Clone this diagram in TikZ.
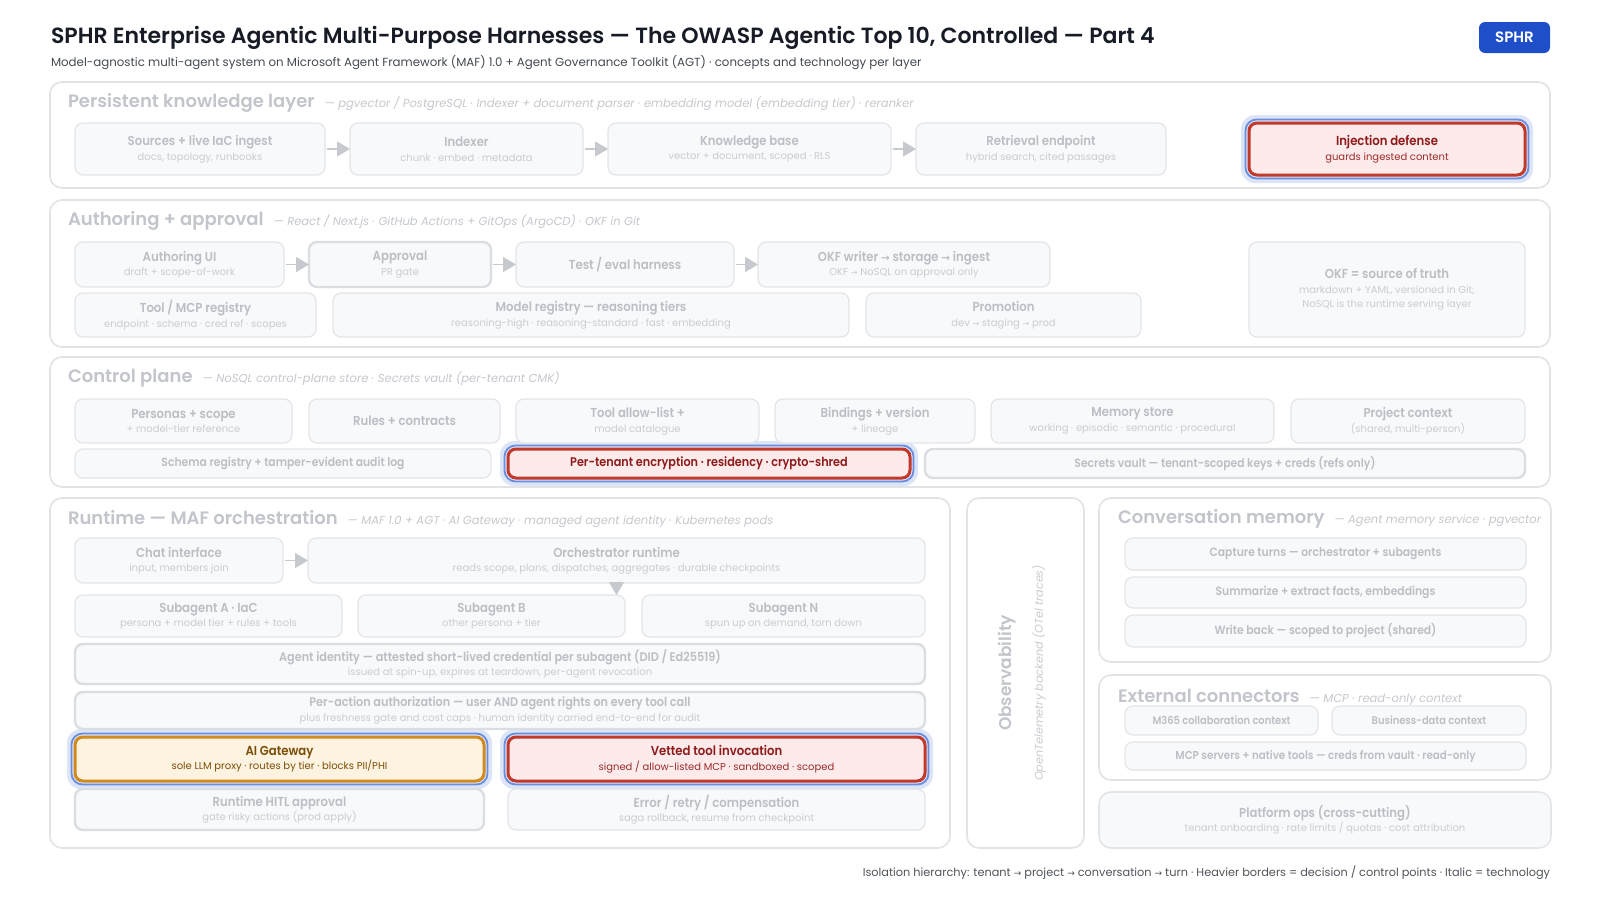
\documentclass[tikz,border=0pt]{standalone}
\usepackage{fontspec}
\usepackage{graphicx}
\setmainfont{Poppins}[BoldFont={Poppins SemiBold}]
\newfontfamily\condfont{Poppins}[FakeStretch=0.9,BoldFont={Poppins SemiBold}]
\newfontfamily\symfont{DejaVu Sans}
\newcommand\ra{{\symfont\scalebox{0.8}{→}}}
\usetikzlibrary{arrows.meta}
\definecolor{titlec}{HTML}{161B26}
\definecolor{subc}{HTML}{454A52}
\definecolor{footc}{HTML}{50555C}
\definecolor{pborder}{HTML}{E1E3E7}
\definecolor{bborder}{HTML}{E3E5E9}
\definecolor{hborder}{HTML}{DADDE2}
\definecolor{bfill}{HTML}{F8F9FA}
\definecolor{ttl}{HTML}{BBBFC5}
\definecolor{sub}{HTML}{C9CCD1}
\definecolor{ltc}{HTML}{C2C5CB}
\definecolor{lsubc}{HTML}{C5C8CD}
\definecolor{redb}{HTML}{C0392B}
\definecolor{redf}{HTML}{FDEAEA}
\definecolor{redt}{HTML}{8E1B1B}
\definecolor{reds}{HTML}{9B2C2C}
\definecolor{ambb}{HTML}{D08A1E}
\definecolor{ambf}{HTML}{FEF3E0}
\definecolor{ambt}{HTML}{7A4E08}
\definecolor{halo}{HTML}{DCE4F7}
\definecolor{haloline}{HTML}{6A8DDE}
\definecolor{sphr}{HTML}{1F4FC8}
\definecolor{arrowc}{HTML}{C6C9CE}
\pgfdeclarelayer{panels}
\pgfdeclarelayer{halos}
\pgfsetlayers{panels,halos,main}
\newcommand\subf{\rmfamily\mdseries\fontsize{10}{14}\selectfont\color{\scol}}
\newcommand\bt[2]{{\bfseries\color{\tcol}#1}\\{\subf #2}}
\newcommand\btw[2]{{\fontsize{12.5}{14.5}\selectfont\bfseries\color{\tcol}#1}\\{\subf #2}}
\newcommand\btt[3]{{\bfseries\color{\tcol}#1}\\{\subf #2}\\{\subf #3}}
\newcommand\bo[1]{{\bfseries\color{\tcol}#1}}
\newcommand\bs[2][12]{{\fontsize{#1}{14}\selectfont\bfseries\color{\tcol}#2}}
\newcommand\layertitle[5]{%
  \node[ltitle, anchor=west] (#1) at (#2,#3) {#4};
  \node[lsub, anchor=base west] (#1s) at ([xshift=10pt]#1.base east) {#5};}
\tikzset{
  every node/.style={inner sep=0pt, outer sep=0pt},
  at box/.style n args={4}{minimum width={(#3-#1)*1pt}, minimum height={(#4-#2)*1pt}, at={({(#1+#3)/2},{(#2+#4)/2})}},
  panel/.style={draw=pborder, line width=1.6pt, fill=white, rounded corners=12pt},
  box/.style={draw=bborder, line width=1.2pt, fill=bfill, rounded corners=8pt, align=center,
    font=\condfont\fontsize{13}{14.5}\selectfont, execute at begin node={\def\tcol{ttl}\def\scol{sub}}},
  heavy/.style={draw=hborder, line width=2.4pt},
  redbox/.style={draw=redb, line width=3pt, fill=redf, execute at begin node={\def\tcol{redt}\def\scol{reds}}},
  ambbox/.style={draw=ambb, line width=3pt, fill=ambf, execute at begin node={\def\tcol{ambt}\def\scol{ambt}}},
  ltitle/.style={font=\fontsize{18}{22}\selectfont\bfseries, text=ltc},
  lsub/.style={font=\fontsize{11.55}{15}\selectfont\itshape, text=lsubc},
  arr/.style={draw=arrowc, line width=1.5pt, shorten <=2pt, -{Triangle[length=13pt,width=15pt]}},
}
\begin{document}
\begin{tikzpicture}[x=1pt,y=-1pt]
\useasboundingbox (0,0) rectangle (1600,900);

% header
\node[anchor=base west, font=\fontsize{22}{26}\selectfont\bfseries, text=titlec] (title) at (51,43)
  {SPHR Enterprise Agentic Multi-Purpose Harnesses — The OWASP Agentic Top 10, Controlled — Part 4};
\node[anchor=base west, font=\fontsize{11.8}{15}\selectfont, text=subc] (subtitle) at (51,66)
  {Model-agnostic multi-agent system on Microsoft Agent Framework (MAF) 1.0 + Agent Governance Toolkit (AGT) · concepts and technology per layer};
\node[fill=sphr, rounded corners=6pt, at box={1479}{22}{1550}{53}, text=white, font=\fontsize{15}{18}\selectfont\bfseries] (badge) {SPHR};

% panels
\begin{pgfonlayer}{panels}
\fill[white] (0,0) rectangle (1600,900);
\node[panel, at box={50}{82}{1550}{188}] (p1) {};
\node[panel, at box={50}{200}{1550}{347}] (p2) {};
\node[panel, at box={50}{357}{1550}{487}] (p3) {};
\node[panel, at box={50}{498}{950}{848}] (p4) {};
\node[panel, at box={967}{498}{1084}{848}] (obs) {};
\node[panel, at box={1099}{498}{1551}{662}] (cm) {};
\node[panel, at box={1099}{675}{1551}{780}] (ec) {};
\end{pgfonlayer}

% layer titles
\layertitle{t1}{68}{103}{Persistent knowledge layer}{— pgvector / PostgreSQL · Indexer + document parser · embedding model (embedding tier) · reranker}
\layertitle{t2}{68}{221}{Authoring + approval}{— React / Next.js · GitHub Actions + GitOps (ArgoCD) · OKF in Git}
\layertitle{t3}{68}{378}{Control plane}{— NoSQL control-plane store · Secrets vault (per-tenant CMK)}
\layertitle{t4}{68}{518}{Runtime — MAF orchestration}{— MAF 1.0 + AGT · AI Gateway · managed agent identity · Kubernetes pods}
\layertitle{t5}{1118}{519}{Conversation memory}{— Agent memory service · pgvector}
\layertitle{t6}{1118}{696}{External connectors}{— MCP · read-only context}

% persistent knowledge layer
\node[box, at box={75}{123}{325}{175}] (src) {\bt{Sources + live IaC ingest}{docs, topology, runbooks}};
\node[box, at box={350}{123}{583}{175}] (idx) {\bt{Indexer}{chunk · embed · metadata}};
\node[box, at box={608}{123}{891}{175}] (kb) {\bt{Knowledge base}{vector + document, scoped · RLS}};
\node[box, at box={916}{123}{1166}{175}] (ret) {\bt{Retrieval endpoint}{hybrid search, cited passages}};
\node[box, redbox, at box={1249}{123}{1525}{175}] (inj) {\bt{Injection defense}{guards ingested content}};

% authoring + approval
\node[box, at box={75}{242}{284}{287}] (authui) {\bt{Authoring UI}{draft + scope-of-work}};
\node[box, heavy, at box={309}{242}{491}{287}] (approval) {\bt{Approval}{PR gate}};
\node[box, at box={516}{242}{734}{287}] (test) {\bo{Test / eval harness}};
\node[box, at box={758}{242}{1050}{287}] (okfw) {\bt{OKF writer \ra{} storage \ra{} ingest}{OKF \ra{} NoSQL on approval only}};
\node[box, at box={75}{293}{316}{337}] (toolreg) {\bt{Tool / MCP registry}{endpoint · schema · cred ref · scopes}};
\node[box, at box={333}{293}{849}{337}] (modreg) {\bt{Model registry — reasoning tiers}{reasoning-high · reasoning-standard · fast · embedding}};
\node[box, at box={866}{293}{1141}{337}] (promo) {\bt{Promotion}{dev \ra{} staging \ra{} prod}};
\node[box, at box={1249}{242}{1525}{337}] (okft) {\btt{OKF = source of truth}{markdown + YAML, versioned in Git;}{NoSQL is the runtime serving layer}};

% control plane
\node[box, at box={75}{399}{292}{443}] (pers) {\bt{Personas + scope}{+ model-tier reference}};
\node[box, at box={309}{399}{500}{443}] (rules) {\bo{Rules + contracts}};
\node[box, at box={516}{399}{759}{443}] (tallow) {\bt{Tool allow-list +}{model catalogue}};
\node[box, at box={775}{399}{975}{443}] (bind) {\bt{Bindings + version}{+ lineage}};
\node[box, at box={991}{399}{1274}{443}] (mem) {\bt{Memory store}{working · episodic · semantic · procedural}};
\node[box, at box={1291}{399}{1525}{443}] (proj) {\bt{Project context}{(shared, multi-person)}};
\node[box, at box={75}{449}{491}{478}] (schema) {\bs{Schema registry + tamper-evident audit log}};
\node[box, redbox, at box={508}{449}{910}{478}] (ptenc) {\bs[12.5]{Per-tenant encryption · residency · crypto-shred}};
\node[box, heavy, at box={925}{449}{1525}{478}] (secrets) {\bs{Secrets vault — tenant-scoped keys + creds (refs only)}};

% runtime
\node[box, at box={75}{538}{283}{583}] (chat) {\bt{Chat interface}{input, members join}};
\node[box, at box={308}{538}{925}{583}] (orch) {\bt{Orchestrator runtime}{reads scope, plans, dispatches, aggregates · durable checkpoints}};
\node[box, at box={75}{595}{342}{637}] (subA) {\bt{Subagent A · IaC}{persona + model tier + rules + tools}};
\node[box, at box={358}{595}{625}{637}] (subB) {\bt{Subagent B}{other persona + tier}};
\node[box, at box={642}{595}{925}{637}] (subN) {\bt{Subagent N}{spun up on demand, torn down}};
\node[box, heavy, at box={75}{644}{925}{684}] (agid) {\btw{Agent identity — attested short-lived credential per subagent (DID / Ed25519)}{issued at spin-up, expires at teardown, per-agent revocation}};
\node[box, heavy, at box={75}{692}{925}{729}] (pact) {\btw{Per-action authorization — user AND agent rights on every tool call}{plus freshness gate and cost caps · human identity carried end-to-end for audit}};
\node[box, ambbox, at box={75}{737}{484}{781}] (aigw) {\bt{AI Gateway}{sole LLM proxy · routes by tier · blocks PII/PHI}};
\node[box, redbox, at box={508}{737}{925}{781}] (vet) {\bt{Vetted tool invocation}{signed / allow-listed MCP · sandboxed · scoped}};
\node[box, heavy, at box={75}{789}{484}{830}] (hitl) {\bt{Runtime HITL approval}{gate risky actions (prod apply)}};
\node[box, at box={508}{789}{925}{830}] (err) {\bt{Error / retry / compensation}{saga rollback, resume from checkpoint}};

% observability
\node[rotate=90, font=\fontsize{17}{22}\selectfont\bfseries, text=ltc] (obst) at (1007,673) {Observability};
\node[rotate=90, font=\fontsize{11.2}{14}\selectfont\itshape, text=sub] (obss) at (1039,673) {OpenTelemetry backend (OTel traces)};

% conversation memory
\node[box, at box={1125}{538}{1526}{570}] (capt) {\bs{Capture turns — orchestrator + subagents}};
\node[box, at box={1125}{577}{1526}{608}] (summ) {\bs{Summarize + extract facts, embeddings}};
\node[box, at box={1125}{615}{1526}{647}] (wback) {\bs{Write back — scoped to project (shared)}};

% external connectors
\node[box, at box={1125}{706}{1318}{735}] (m365) {\bs[11]{M365 collaboration context}};
\node[box, at box={1332}{706}{1526}{735}] (biz) {\bs[11]{Business-data context}};
\node[box, at box={1125}{742}{1526}{770}] (mcp) {\bs[11.5]{MCP servers + native tools — creds from vault · read-only}};

% platform ops
\node[box, line width=1.6pt, rounded corners=12pt, at box={1099}{792}{1551}{848}] (pops) {\bt{Platform ops (cross-cutting)}{tenant onboarding · rate limits / quotas · cost attribution}};

% halos
\begin{pgfonlayer}{halos}
\foreach \n in {inj,ptenc,aigw,vet}{
  \fill[halo, rounded corners=14pt] ([shift={(-8,8)}]\n.south west) rectangle ([shift={(8,-8)}]\n.north east);
  \draw[haloline, line width=1.8pt, rounded corners=11pt] ([shift={(-3.5,3.5)}]\n.south west) rectangle ([shift={(3.5,-3.5)}]\n.north east);
}
\end{pgfonlayer}

% connectors
\draw[arr] (src) -- (idx);
\draw[arr] (idx) -- (kb);
\draw[arr] (kb) -- (ret);
\draw[arr] (authui) -- (approval);
\draw[arr] (approval) -- (test);
\draw[arr] (test) -- (okfw);
\draw[arr] (chat) -- (orch);
\draw[arr, shorten <=0pt] (orch.south) -- (orch.south |- subB.north);

% footer
\node[anchor=base east, font=\fontsize{11.3}{15}\selectfont, text=footc] (foot) at (1550,876)
  {Isolation hierarchy: tenant \ra{} project \ra{} conversation \ra{} turn · Heavier borders = decision / control points · Italic = technology};
\end{tikzpicture}
\end{document}
